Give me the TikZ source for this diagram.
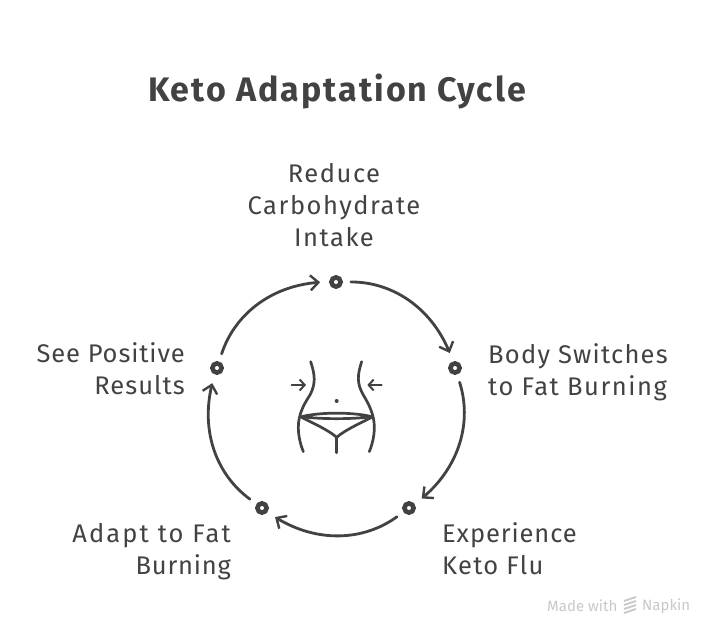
\documentclass[tikz,border=0pt]{standalone}
\usepackage{fontspec}
\setmainfont{Fira Sans}
\usetikzlibrary{arrows.meta,bending}
\definecolor{ink}{HTML}{424242}
\definecolor{wmgrey}{HTML}{C8C8C8}
\newcommand{\spaced}[2]{{\addfontfeature{LetterSpace=#1}#2}}
\tikzset{
  stage/.style={circle,draw=ink,fill=white,line width=4.6pt,minimum size=9.2pt,inner sep=0pt},
  flow/.style={draw=ink,line width=2.8pt,line cap=round,-{Straight Barb[length=8pt,width=15pt,line width=2.4pt,flex]},shorten >=9pt,shorten <=8pt,bend left=36},
  steptext/.style={text=ink,inner sep=0pt,font=\fontsize{25.5}{32}\selectfont},
  heading/.style={text=ink,inner sep=0pt,font=\fontsize{34}{38}\selectfont\bfseries\addfontfeature{LetterSpace=6}},
  bodyline/.style={draw=ink,line width=2.7pt,line cap=round,line join=round},
  squeeze/.style={bodyline,-{Straight Barb[length=5pt,width=11pt,line width=2pt]},line width=2.1pt},
  watermark/.style={text=wmgrey,inner sep=0pt,font=\fontsize{15}{16}\selectfont}
}
\begin{document}
\begin{tikzpicture}[x=1pt,y=-1pt]
\useasboundingbox (0,0) rectangle (720,642);
\node[heading,anchor=center] (title) at (337,91) {Keto Adaptation Cycle};
\node[stage] (a) at (336,282) {};
\node[stage] (b) at (455,368) {};
\node[stage] (c) at (409,508) {};
\node[stage] (d) at (262,508) {};
\node[stage] (e) at (217,368) {};
\draw[flow] (a) to (b);
\draw[flow] (b) to (c);
\draw[flow] (c) to (d);
\draw[flow] (d) to (e);
\draw[flow] (e) to (a);
\node[steptext,align=center,anchor=center] (la) at (334,205) {\spaced{6}{Reduce}\\\spaced{6}{Carbohydrate}\\\spaced{6}{Intake}};
\node[steptext,align=left,anchor=west] (lb) at (488,372) {\spaced{4.8}{Body Switches}\\\spaced{6}{to Fat Burning}};
\node[steptext,align=left,anchor=west] (lc) at (442,549) {\spaced{3.5}{Experience}\\\spaced{5}{Keto Flu}};
\node[steptext,align=right,anchor=east] (ld) at (231,552) {\spaced{8.3}{Adapt to Fat}\\\spaced{3}{Burning}};
\node[steptext,align=right,anchor=east] (le) at (185,369) {\spaced{3.5}{See Positive}\\\spaced{4}{Results}};
\begin{scope}[shift={(270,340)},x=0.3333pt,y=-0.3333pt]
  \draw[bodyline] (122,65) .. controls (135,105) and (138,130) .. (120,165) .. controls (100,195) and (85,225) .. (85,262) .. controls (85,290) and (92,315) .. (100,335);
  \draw[bodyline] (275,65) .. controls (262,105) and (260,130) .. (280,165) .. controls (298,195) and (313,225) .. (313,262) .. controls (313,290) and (306,315) .. (298,335);
  \draw[bodyline] (95,230) .. controls (150,216) and (250,216) .. (305,230) .. controls (250,238) and (150,238) .. (95,230);
  \draw[bodyline] (95,232) .. controls (130,250) and (175,270) .. (200,292) .. controls (225,270) and (270,250) .. (305,232);
  \draw[bodyline] (200,292) -- (200,338);
  \fill[ink] (200,183) circle (6);
  \draw[squeeze] (65,135) -- (108,135);
  \draw[squeeze] (335,135) -- (292,135);
\end{scope}
\node[watermark,anchor=west] (m1) at (547,606) {Made with};
\node[watermark,anchor=west] (m2) at (642,606) {Napkin};
\foreach \yy in {601,605,609,613}
  \draw[wmgrey,line width=1.8pt] (624,\yy) -- (636,\yy-4);
\end{tikzpicture}
\end{document}
